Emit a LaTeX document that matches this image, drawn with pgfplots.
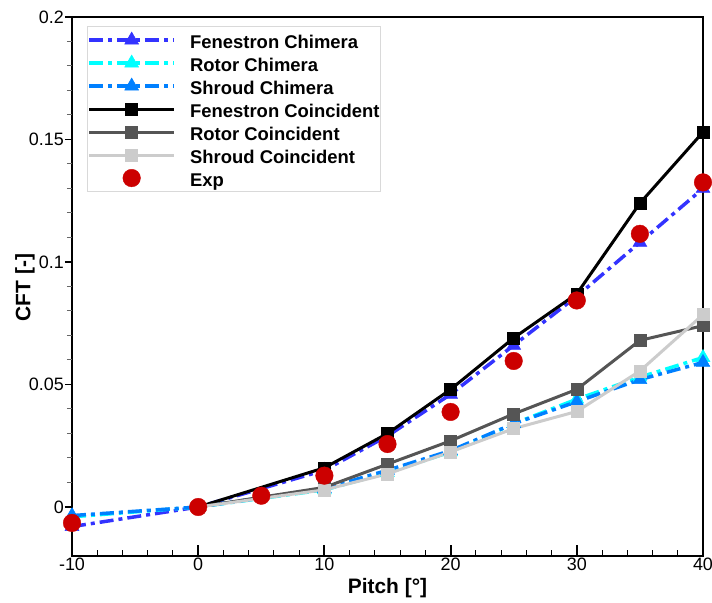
\documentclass[border=0pt]{standalone}
\usepackage{fontspec}
\setmainfont{Liberation Sans}
\usepackage{pgfplots}
\pgfplotsset{compat=1.18}
\definecolor{fenc}{RGB}{51,51,255}
\definecolor{rotc}{RGB}{0,255,255}
\definecolor{shrc}{RGB}{0,128,255}
\definecolor{rotco}{RGB}{85,85,85}
\definecolor{shrco}{RGB}{204,204,204}
\definecolor{expc}{RGB}{204,0,0}
\pgfplotsset{myleg/.style={legend image code/.code={%
  \draw[mark repeat=2,mark phase=2,##1] plot coordinates {(0bp,0bp) (42.5bp,0bp) (85bp,0bp)};
  \pgfpathmoveto{\pgfpoint{100bp}{0bp}}\pgfusepath{discard}}},
  expleg/.style={legend image code/.code={%
  \path[mark repeat=2,mark phase=2,##1] plot[only marks] coordinates {(0bp,0bp) (42.5bp,0bp) (85bp,0bp)};
  \pgfpathmoveto{\pgfpoint{0bp}{0bp}}\pgfusepath{discard}%
  \pgfpathmoveto{\pgfpoint{100bp}{0bp}}\pgfusepath{discard}}}}
\begin{document}
\begin{tikzpicture}
\begin{axis}[name=main, scale only axis, width=631bp, height=539bp,
  xmin=-10, xmax=40, ymin=-0.02, ymax=0.2,
  xtick={-10,0,10,20,30,40}, xticklabels={-10,0,10,20,30,40},
  minor x tick num=4, ytick=\empty,
  tick align=inside, xtick pos=lower,
  major tick length=11bp, minor tick length=6bp,
  every major tick/.append style={line width=2bp, black},
  every minor tick/.append style={line width=1bp, black},
  axis line style={line width=2.5bp},
  xticklabel style={font=\fontsize{18}{20}\selectfont, inner sep=2bp},
  xlabel={\bfseries Pitch [°]}, ylabel={\bfseries CFT [-]},
  every axis x label/.style={at={(axis description cs:0.5,-0.059)}, anchor=center, font=\fontsize{21}{24}\selectfont},
  every axis y label/.style={at={(axis description cs:-0.0745,0.498)}, anchor=center, rotate=90, font=\fontsize{21}{24}\selectfont},
  clip=false, myleg,
  legend cell align=left,
  legend style={at={(0.0238,0.983)}, anchor=north west, draw=black!15, line width=0.8bp,
    inner xsep=0bp, inner ysep=4bp, row sep=4bp,
    font=\fontsize{18.5}{21}\selectfont\bfseries,
    nodes={inner sep=1bp, text height=17bp, text depth=0bp}},
]
\addplot[fenc, line width=3.5bp, dash pattern=on 14bp off 5bp on 4bp off 5bp, mark=triangle*, mark size=8bp, mark options={solid, line width=0.5bp}]
  coordinates {(-10,-0.008) (0,0) (10,0.015) (15,0.029) (20,0.046) (25,0.066) (30,0.086) (35,0.108) (40,0.130)};
\addlegendentry{Fenestron Chimera}
\addplot[rotc, line width=3.5bp, dash pattern=on 14bp off 5bp on 4bp off 5bp, mark=triangle*, mark size=8bp, mark options={solid, line width=0.5bp}]
  coordinates {(-10,-0.004) (0,0) (10,0.007) (15,0.014) (20,0.0225) (25,0.034) (30,0.044) (35,0.053) (40,0.061)};
\addlegendentry{Rotor Chimera}
\addplot[shrc, line width=3.5bp, dash pattern=on 14bp off 5bp on 4bp off 5bp, mark=triangle*, mark size=8bp, mark options={solid, line width=0.5bp}]
  coordinates {(-10,-0.0035) (0,0) (10,0.0075) (15,0.015) (20,0.023) (25,0.034) (30,0.043) (35,0.052) (40,0.059)};
\addlegendentry{Shroud Chimera}
\addplot[black, line width=3bp, mark=square*, mark size=6bp, mark options={solid, line width=0.5bp}]
  coordinates {(0,0) (10,0.016) (15,0.030) (20,0.048) (25,0.069) (30,0.087) (35,0.124) (40,0.153)};
\addlegendentry{Fenestron Coincident}
\addplot[rotco, line width=3bp, mark=square*, mark size=6bp, mark options={solid, line width=0.5bp}]
  coordinates {(0,0) (10,0.008) (15,0.0175) (20,0.027) (25,0.038) (30,0.048) (35,0.068) (40,0.074)};
\addlegendentry{Rotor Coincident}
\addplot[shrco, line width=3bp, mark=square*, mark size=6bp, mark options={solid, line width=0.5bp}]
  coordinates {(0,0) (10,0.007) (15,0.0135) (20,0.0225) (25,0.032) (30,0.039) (35,0.0555) (40,0.0785)};
\addlegendentry{Shroud Coincident}
\addplot[only marks, expleg, mark=*, mark size=8.8bp, mark options={fill=expc, draw=expc, line width=0.4bp}]
  coordinates {(-10,-0.0065) (0,0) (5,0.0046) (10,0.0128) (15,0.0257) (20,0.0388) (25,0.0596) (30,0.0843) (35,0.1115) (40,0.1325)};
\addlegendentry{Exp}
\end{axis}
\begin{axis}[scale only axis, width=631bp, height=539bp,
  xmin=-10, xmax=40, ymin=-0.02, ymax=0.2,
  xtick=\empty, ytick={0,0.05,0.1,0.15,0.2}, yticklabels={0,0.05,0.1,0.15,0.2},
  minor y tick num=4, ytick pos=left, tick align=outside,
  major tick length=7bp, minor tick length=5bp,
  every major tick/.append style={line width=1.2bp, black},
  every minor tick/.append style={line width=1bp, black!60},
  axis line style={draw=none},
  yticklabel style={font=\fontsize{18}{20}\selectfont, inner sep=1bp},
]
\addplot[draw=none] coordinates {(0,0)};
\end{axis}
\pgfresetboundingbox
\path ([xshift=-72bp,yshift=-47bp]main.south west) rectangle ([xshift=9bp,yshift=17bp]main.north east);
\end{tikzpicture}
\end{document}
